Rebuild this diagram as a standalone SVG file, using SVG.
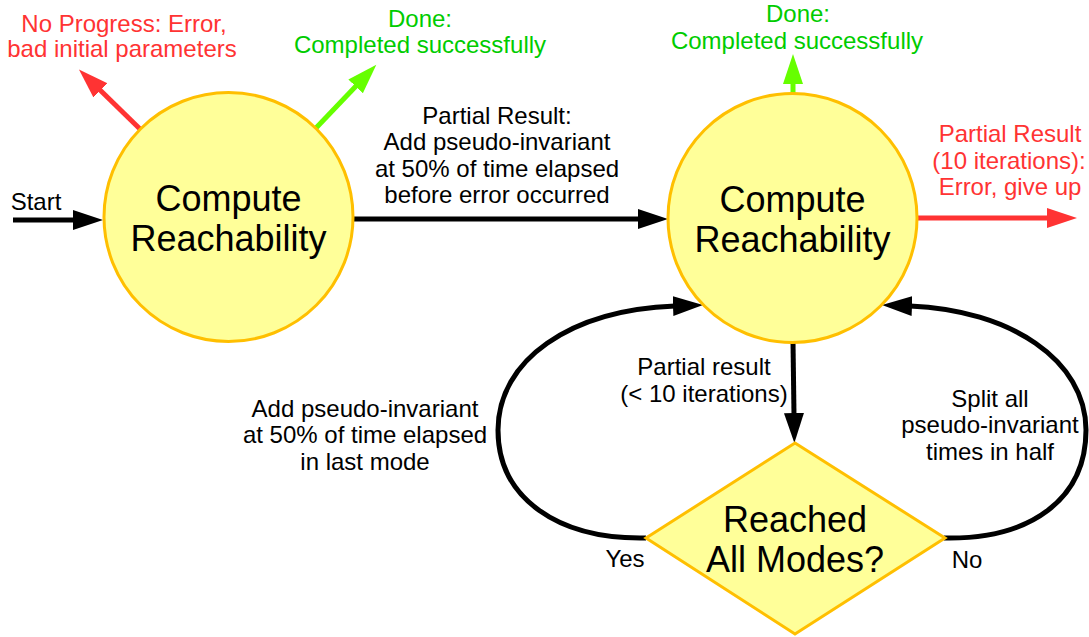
<svg xmlns="http://www.w3.org/2000/svg" width="1089" height="637" viewBox="0 0 1089 637">
<style>
text{font-family:"Liberation Sans",Arial,sans-serif;font-size:24px;text-anchor:middle;fill:#000}
.big{font-size:36px}
.red{fill:#ff3333}
.grn{fill:#00cc00}
.node{fill:#ffff99;stroke:#ffbf00;stroke-width:3}
.k{fill:none;stroke:#000;stroke-width:5}
.r{fill:none;stroke:#ff3333;stroke-width:5}
.g{fill:none;stroke:#66ff00;stroke-width:5}
</style>
<defs>
<marker id="ak" markerUnits="userSpaceOnUse" markerWidth="32" markerHeight="22" refX="2" refY="11" orient="auto" viewBox="0 0 32 22"><path d="M0,1 L30,11 L0,21 z" fill="#000"/></marker>
<marker id="ar" markerUnits="userSpaceOnUse" markerWidth="32" markerHeight="22" refX="2" refY="11" orient="auto" viewBox="0 0 32 22"><path d="M0,1 L30,11 L0,21 z" fill="#ff3333"/></marker>
<marker id="ag" markerUnits="userSpaceOnUse" markerWidth="32" markerHeight="22" refX="2" refY="11" orient="auto" viewBox="0 0 32 22"><path d="M0,1 L30,11 L0,21 z" fill="#66ff00"/></marker>
</defs>
<rect width="1089" height="637" fill="#fff"/>
<g id="connectors">
<line class="k" x1="13" y1="220" x2="75" y2="220" marker-end="url(#ak)"/>
<line class="k" x1="353" y1="219" x2="640" y2="219" marker-end="url(#ak)"/>
<line class="r" x1="140" y1="129" x2="99" y2="89" marker-end="url(#ar)"/>
<line class="g" x1="316" y1="128" x2="357" y2="85" marker-end="url(#ag)"/>
<line class="g" x1="793" y1="94" x2="793" y2="82" marker-end="url(#ag)"/>
<line class="r" x1="917" y1="218" x2="1049" y2="218" marker-end="url(#ar)"/>
<line class="k" x1="793" y1="342" x2="794" y2="415" marker-end="url(#ak)"/>
<path class="k" d="M646,538 L640,538 C560,538 498,500 498,430 C498,360 570,310 675,306" marker-end="url(#ak)"/>
<path class="k" d="M944,538 L950,538 C1030,538 1086,500 1086,430 C1086,360 1010,310 910,306" marker-end="url(#ak)"/>
<text x="36" y="210">Start</text>
<text x="497" y="124">Partial Result:</text>
<text x="497" y="150">Add pseudo-invariant</text>
<text x="497" y="177">at 50% of time elapsed</text>
<text x="497" y="203">before error occurred</text>
<text class="red" x="124" y="32">No Progress: Error,</text>
<text class="red" x="122" y="57">bad initial parameters</text>
<text class="grn" x="420" y="27">Done:</text>
<text class="grn" x="420" y="53">Completed successfully</text>
<text class="grn" x="798" y="22">Done:</text>
<text class="grn" x="797" y="49">Completed successfully</text>
<text class="red" x="1010" y="142">Partial Result</text>
<text class="red" x="1009" y="169">(10 iterations):</text>
<text class="red" x="1010" y="195">Error, give up</text>
<text x="704" y="375">Partial result</text>
<text x="704" y="402">(&lt; 10 iterations)</text>
<text x="365" y="417">Add pseudo-invariant</text>
<text x="365" y="443">at 50% of time elapsed</text>
<text x="365" y="470">in last mode</text>
<text x="990" y="407">Split all</text>
<text x="990" y="433">pseudo-invariant</text>
<text x="990" y="460">times in half</text>
<text x="625" y="567">Yes</text>
<text x="967" y="568">No</text>
</g>
<g id="node-compute1">
<circle class="node" cx="228.5" cy="217" r="124.5"/>
<text class="big" x="228.5" y="211">Compute</text>
<text class="big" x="228.5" y="251">Reachability</text>
</g>
<g id="node-compute2">
<circle class="node" cx="792.5" cy="218" r="124.5"/>
<text class="big" x="792.5" y="212">Compute</text>
<text class="big" x="792.5" y="252">Reachability</text>
</g>
<g id="node-reached">
<polygon class="node" points="795,443 945,538 795,634 646,538"/>
<text class="big" x="795" y="532">Reached</text>
<text class="big" x="795" y="572">All Modes?</text>
</g>
</svg>
